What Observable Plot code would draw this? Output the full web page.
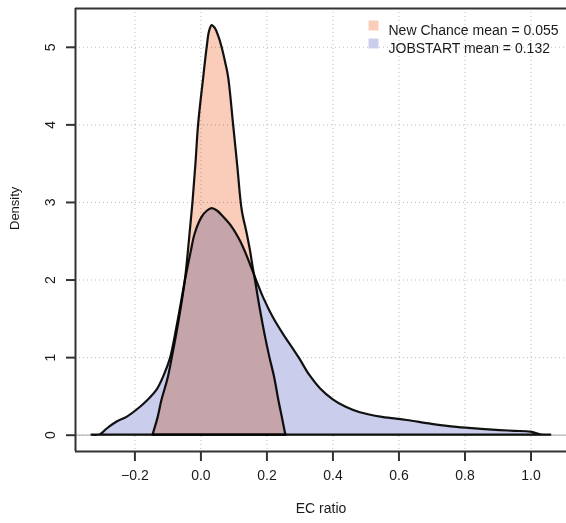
<!DOCTYPE html>
<html>
<head>
<meta charset="utf-8">
<script src="https://cdn.jsdelivr.net/npm/d3@7"></script>
<script src="https://cdn.jsdelivr.net/npm/@observablehq/plot@0.6"></script>
<style>
  html, body { margin: 0; padding: 0; background: #fff; overflow: hidden; }
  svg { font-family: "Liberation Sans", Arial, Helvetica, sans-serif; }
</style>
</head>
<body>
<div id="chart"></div>
<script>
// New Chance density curve (EC ratio, density)
const ncX = [-0.145, -0.143, -0.130, -0.118, -0.100, -0.087, -0.065, -0.047, -0.035, -0.024, -0.015, -0.007, 0.0085, 0.019, 0.026, 0.034, 0.044, 0.054, 0.064, 0.075, 0.084, 0.099, 0.112, 0.125, 0.140, 0.150, 0.158, 0.165, 0.180, 0.195, 0.209, 0.223, 0.236, 0.248, 0.256, 0.258];
const ncY = [0, 0.03, 0.22, 0.45, 0.72, 0.99, 1.50, 2.00, 2.50, 3.00, 3.50, 4.00, 4.61, 5.00, 5.20, 5.28, 5.24, 5.14, 5.00, 4.80, 4.61, 4.00, 3.45, 2.90, 2.60, 2.38, 2.17, 2.00, 1.62, 1.28, 1.00, 0.75, 0.45, 0.20, 0.03, 0];

// JOBSTART density curve
const jsX = [-0.330, -0.305, -0.284, -0.254, -0.224, -0.183, -0.160, -0.133, -0.110, -0.092, -0.070, -0.047, -0.030, -0.017, 0.004, 0.020, 0.034, 0.050, 0.069, 0.095, 0.120, 0.135, 0.150, 0.170, 0.190, 0.220, 0.250, 0.280, 0.300, 0.330, 0.362, 0.400, 0.440, 0.483, 0.550, 0.625, 0.700, 0.776, 0.850, 0.907, 0.950, 1.000, 1.030, 1.060];
const jsY = [0, 0.005, 0.08, 0.17, 0.23, 0.36, 0.45, 0.58, 0.78, 0.99, 1.45, 1.99, 2.35, 2.60, 2.81, 2.89, 2.92, 2.89, 2.81, 2.68, 2.50, 2.36, 2.20, 1.98, 1.77, 1.51, 1.30, 1.11, 0.98, 0.77, 0.60, 0.46, 0.36, 0.29, 0.23, 0.19, 0.14, 0.10, 0.075, 0.06, 0.05, 0.04, 0.005, 0];

const xTicks = [-0.2, 0.0, 0.2, 0.4, 0.6, 0.8, 1.0];
const yTicks = [0, 1, 2, 3, 4, 5];
const seriesNames = ["New Chance", "JOBSTART"];
const seriesMeans = [0.055, 0.132];
const seriesColors = ["#f9cdb9", "#cacdeb"];
const xLabel = "EC ratio";
const yLabel = "Density";

const nc = ncX.map((x, i) => ({x, y: ncY[i]}));
const js = jsX.map((x, i) => ({x, y: jsY[i]}));
const legend = seriesNames.map((name, i) => ({
  label: `${name} mean = ${seriesMeans[i].toFixed(3)}`,
  color: seriesColors[i],
  row: i
}));

const xDomain = [-0.380, 1.1076];
const yDomain = [-0.21, 5.5];

const chart = Plot.plot({
  width: 566,
  height: 523,
  marginLeft: 75,
  marginRight: 0,
  marginTop: 8,
  marginBottom: 72,
  style: {fontSize: "14px", color: "#1a1a1a", background: "#fff"},
  x: {domain: xDomain, label: null},
  y: {domain: yDomain, label: null},
  marks: [
    Plot.gridX(xTicks, {stroke: "#bdbdbd", strokeOpacity: 1, strokeDasharray: "1,3"}),
    Plot.gridY(yTicks, {stroke: "#bdbdbd", strokeOpacity: 1, strokeDasharray: "1,3"}),
    Plot.ruleY([0], {stroke: "#b5b5b5", strokeWidth: 1.2}),
    Plot.areaY(js, {x: "x", y: "y", curve: "catmull-rom", fill: seriesColors[1], stroke: "#111", strokeWidth: 2.2, strokeLinejoin: "round"}),
    Plot.areaY(nc, {x: "x", y: "y", curve: "catmull-rom", fill: seriesColors[0], stroke: "#111", strokeWidth: 2.2, strokeLinejoin: "round", mixBlendMode: "multiply"}),
    Plot.ruleX([xDomain[0]], {stroke: "#333", strokeWidth: 2}),
    Plot.ruleY([yDomain[0], yDomain[1]], {stroke: "#333", strokeWidth: 2}),
    Plot.axisX(xTicks, {tickSize: 10, tickPadding: 9, tickFormat: d3.format(".1f"), fontSize: 14, stroke: "#333", strokeWidth: 2, label: null}),
    Plot.axisY(yTicks, {tickSize: 9, tickPadding: 12, tickRotate: -90, tickFormat: d3.format("d"), fontSize: 14, stroke: "#333", strokeWidth: 2, label: null}),
    Plot.text([yLabel], {frameAnchor: "left", dx: -61, rotate: -90, text: d => d, fontSize: 13, fill: "#1a1a1a"}),
    Plot.text([xLabel], {frameAnchor: "bottom", dy: 61, text: d => d, fontSize: 14, fill: "#1a1a1a"}),
    Plot.dot(legend, {frameAnchor: "top-right", dx: -193, dy: 17, symbol: "square", r: 5.6, fill: "color", filter: d => d.row === 0}),
    Plot.dot(legend, {frameAnchor: "top-right", dx: -193, dy: 35, symbol: "square", r: 5.6, fill: "color", filter: d => d.row === 1}),
    Plot.text(legend, {frameAnchor: "top-right", dx: -178, dy: 17, textAnchor: "start", text: "label", fontSize: 14, fill: "#1a1a1a", filter: d => d.row === 0}),
    Plot.text(legend, {frameAnchor: "top-right", dx: -178, dy: 35, textAnchor: "start", text: "label", fontSize: 14, fill: "#1a1a1a", filter: d => d.row === 1})
  ]
});
document.getElementById("chart").appendChild(chart);
</script>
</body>
</html>
